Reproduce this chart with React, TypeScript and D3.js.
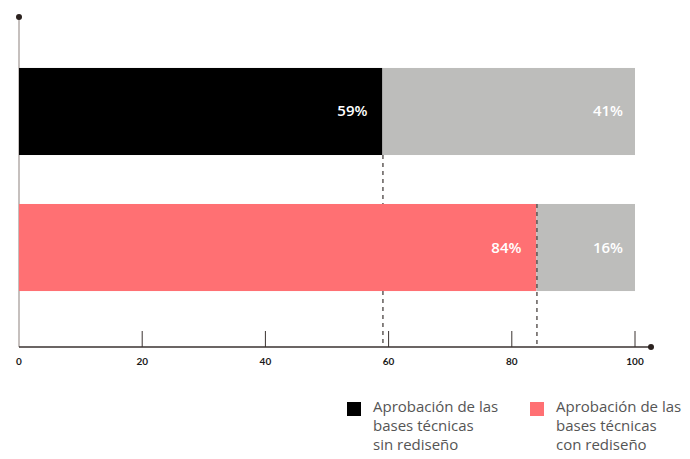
import React from "react";
import * as d3 from "d3";

const categories = ["sin rediseño", "con rediseño"];
const approvedValues = [59, 84];
const restValues = [41, 16];
const barColors = ["#000000", "#ff7073"];
const tickValues = [0, 20, 40, 60, 80, 100];
const legendLabels = [
  ["Aprobación de las", "bases técnicas", "sin rediseño"],
  ["Aprobación de las", "bases técnicas", "con rediseño"],
];

export default function App() {
  const W = 690, H = 459;
  const x = d3.scaleLinear().domain([0, 100]).range([19, 635]);
  const y = d3.scaleBand().domain(categories).range([19, 340]).paddingInner(0.36).paddingOuter(0.36);
  const axisY = 347;
  const font = "'Open Sans', Lato, sans-serif";
  return (
    <svg width={W} height={H} style={{ position: "absolute", left: 0, top: 0 }} fontFamily={font}>
      {/* y axis */}
      <line x1={19} x2={19} y1={17} y2={axisY} stroke="#b3aba8" strokeWidth={1.5} />
      <circle cx={19} cy={17} r={3} fill="#2b221f" />
      {categories.map((c, i) => {
        const y0 = y(c)!;
        const bh = y.bandwidth();
        return (
          <g key={c}>
            <rect x={x(0)} y={y0} width={x(approvedValues[i]) - x(0)} height={bh} fill={barColors[i]} />
            <rect x={x(approvedValues[i])} y={y0} width={x(approvedValues[i] + restValues[i]) - x(approvedValues[i])} height={bh} fill="#bdbdbb" />
            <text x={x(approvedValues[i]) - 15} y={y0 + bh / 2 + 5} textAnchor="end" fill="#fff" fontSize={15} fontWeight={600}>{approvedValues[i]}%</text>
            <text x={x(approvedValues[i] + restValues[i]) - 12} y={y0 + bh / 2 + 5} textAnchor="end" fill="#fff" fontSize={15} fontWeight={600}>{restValues[i]}%</text>
            <line x1={x(approvedValues[i]) + 0.5} x2={x(approvedValues[i]) + 0.5} y1={i === 0 ? y0 + bh : y0} y2={axisY - 2} stroke="#4a4240" strokeWidth={1.3} strokeDasharray="4,4" />
          </g>
        );
      })}
      {/* x axis */}
      <line x1={19} x2={651} y1={axisY} y2={axisY} stroke="#3a3230" strokeWidth={1.3} />
      <circle cx={651} cy={axisY} r={3} fill="#2b221f" />
      {tickValues.map((t) => (
        <g key={t}>
          {t > 0 && <line x1={x(t)} x2={x(t)} y1={axisY - 16} y2={axisY} stroke="#3a3230" strokeWidth={1} />}
          <text x={x(t)} y={axisY + 18} textAnchor={t === 0 ? "start" : "middle"} dx={t === 0 ? -3 : 0} fontSize={10} fontWeight={700} fill="#1a1a1a" fontFamily="Lato, sans-serif">{t}</text>
        </g>
      ))}
      {/* legend */}
      {legendLabels.map((lines, i) => {
        const lx = i === 0 ? 347 : 530;
        return (
          <g key={i}>
            <rect x={lx} y={402} width={14} height={14} fill={barColors[i]} />
            {lines.map((l, j) => (
              <text key={j} x={lx + 26} y={412 + j * 19} fontSize={15} fill="#555">{l}</text>
            ))}
          </g>
        );
      })}
    </svg>
  );
}
